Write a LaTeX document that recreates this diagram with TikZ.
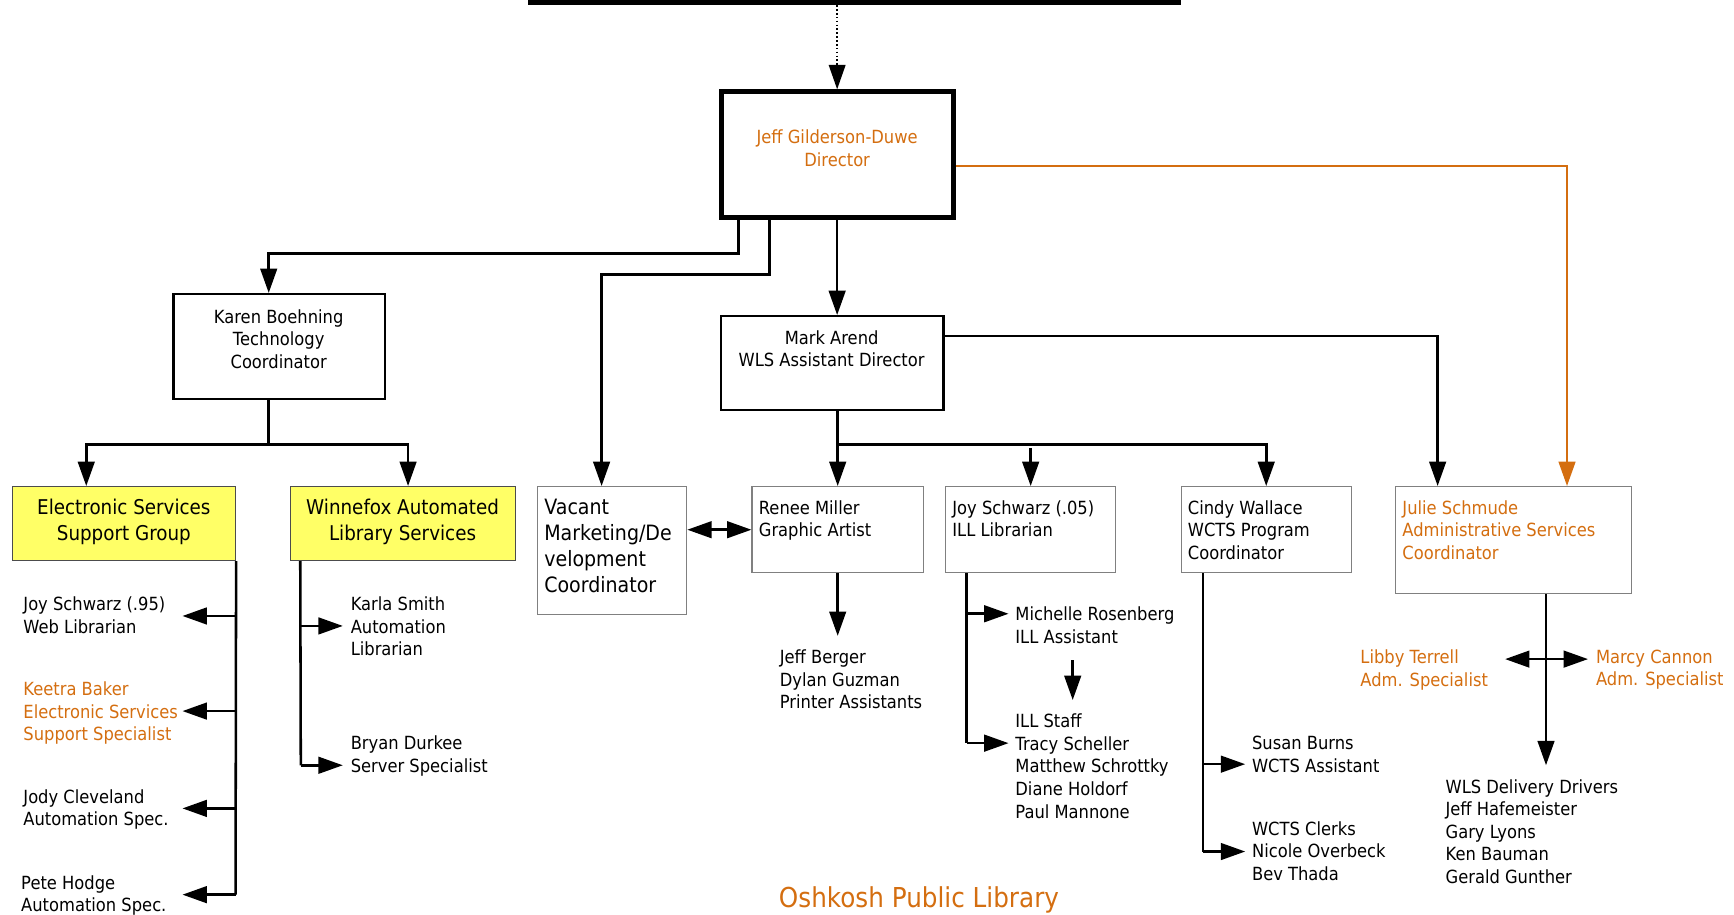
\documentclass[tikz,border=0pt]{standalone}
\usepackage{fontspec}
\setmainfont{DejaVu Sans}[FakeStretch=0.9]
\usetikzlibrary{arrows.meta,calc}
\definecolor{orgc}{RGB}{212,110,16}
\definecolor{yelc}{RGB}{255,255,102}
\definecolor{gryc}{RGB}{128,128,128}
\newcommand{\fsn}{\fontsize{16.4}{20.4}\selectfont}
\newcommand{\fsb}{\fontsize{18.4}{23.4}\selectfont}
\newcommand{\fsv}{\fontsize{19.1}{23.4}\selectfont}
\begin{document}
\begin{tikzpicture}[x=1pt,y=-1pt,
  tip/.style={-{Triangle[length=22pt,width=15pt]}},
  conn/.style={line width=2.3pt,tip},
  dconn/.style={line width=2.3pt,{Triangle[length=22pt,width=15pt]}-{Triangle[length=22pt,width=15pt]}},
  plainline/.style={line width=2.3pt},
  bigbox/.style={draw,line width=2.2pt,inner sep=0,fill=white},
  dirbox/.style={draw,line width=4.5pt,inner sep=0,fill=white},
  thinbox/.style={draw=gryc,line width=1pt,inner sep=0,fill=white},
  yelbox/.style={draw=black!70,line width=1pt,inner sep=0,fill=yelc},
  txt/.style={anchor=north west,inner sep=0,align=left,font=\fsn},
  ctxt/.style={anchor=north,inner sep=0,align=center,font=\fsn},
  btxt/.style={anchor=north,inner sep=0,align=center,font=\fsb},
]
\useasboundingbox (0,0) rectangle (1568,827);

% top bar
\node[fill=black,inner sep=0,minimum width=591,minimum height=5] (topbar) at (772.5,2) {};

% boxes
\node[dirbox,minimum width=210,minimum height=114] (dir) at (757,140) {};
\node[bigbox,minimum width=191,minimum height=95] (karen) at (252.5,313.5) {};
\node[bigbox,minimum width=201,minimum height=85] (mark) at (752.5,328.5) {};
\node[yelbox,minimum width=202,minimum height=67] (esg) at (112,473.5) {};
\node[yelbox,minimum width=203,minimum height=67] (wfx) at (364.5,473.5) {};
\node[thinbox,minimum width=135,minimum height=116] (vac) at (553.5,498) {};
\node[thinbox,minimum width=155,minimum height=78] (renee) at (757.5,479) {};
\node[thinbox,minimum width=154,minimum height=78] (joy) at (932,479) {};
\node[thinbox,minimum width=154,minimum height=78] (cindy) at (1145,479) {};
\node[thinbox,minimum width=213,minimum height=97] (julie) at (1368.5,488.5) {};

% box texts
\node[ctxt,text=orgc] (dirt) at (757,117.5) {Jeff Gilderson-Duwe\\Director};
\node[ctxt] (karent) at (252,279.5) {Karen Boehning\\Technology\\Coordinator};
\node[ctxt] (markt) at (752,298.5) {Mark Arend\\WLS Assistant Director};
\node[btxt] (esgt) at (112,451.5) {Electronic Services\\Support Group};
\node[btxt] (wfxt) at (364,451.5) {Winnefox Automated\\Library Services};
\node[txt,font=\fsv] (vact) at (492,451) {Vacant\\Marketing/De\\velopment\\Coordinator};
\node[txt] (reneet) at (686,452.5) {Renee Miller\\Graphic Artist};
\node[txt] (joyt) at (861,452.5) {Joy Schwarz (.05)\\ILL Librarian};
\node[txt] (cindyt) at (1074,452.5) {Cindy Wallace\\WCTS Program\\Coordinator};
\node[txt,text=orgc] (juliet) at (1268,452.5) {Julie Schmude\\Administrative Services\\Coordinator};

% free texts
\node[txt] (joys) at (21,539.5) {Joy Schwarz (.95)\\Web Librarian};
\node[txt,text=orgc] (keetra) at (21,616.5) {Keetra Baker\\Electronic Services\\Support Specialist};
\node[txt] (jody) at (21,713.5) {Jody Cleveland\\Automation Spec.};
\node[txt] (pete) at (19,791.5) {Pete Hodge\\Automation Spec.};
\node[txt] (karla) at (317,539.5) {Karla Smith\\Automation\\Librarian};
\node[txt] (bryan) at (317,665.5) {Bryan Durkee\\Server Specialist};
\node[txt] (printer) at (705,587.5) {Jeff Berger\\Dylan Guzman\\Printer Assistants};
\node[txt] (michelle) at (918,548.5) {Michelle Rosenberg\\ILL Assistant};
\node[txt] (illstaff) at (918,645.5) {ILL Staff\\Tracy Scheller\\Matthew Schrottky\\Diane Holdorf\\Paul Mannone};
\node[txt] (susan) at (1132,665.5) {Susan Burns\\WCTS Assistant};
\node[txt] (clerks) at (1132,742.5) {WCTS Clerks\\Nicole Overbeck\\Bev Thada};
\node[txt,text=orgc] (libby) at (1230,587.5) {Libby Terrell\\Adm. Specialist};
\node[txt,text=orgc] (marcy) at (1443,587.5) {Marcy Cannon\\Adm. Specialist};
\node[txt] (drivers) at (1307,704.5) {WLS Delivery Drivers\\Jeff Hafemeister\\Gary Lyons\\Ken Bauman\\Gerald Gunther};
\node[inner sep=0,text=orgc,font=\fontsize{24.8}{30}\selectfont] (title) at (831,814) {Oshkosh Public Library};

% coordinates
\coordinate (kbus) at (243,402);
\coordinate (mbus) at (757.5,402);
\coordinate (esgend) at (213,809);
\coordinate (a1) at (165,557);
\coordinate (a2) at (165,643);
\coordinate (a3) at (165,731);
\coordinate (a4) at (165,809);
\coordinate (wfxend) at (272,692);
\coordinate (b1) at (310,566);
\coordinate (b2) at (310,692);
\coordinate (rend) at (757.5,575);
\coordinate (joyend) at (874,672);
\coordinate (c1) at (912,555);
\coordinate (c2) at (912,672);
\coordinate (cindyend) at (1088,770);
\coordinate (d1) at (1126,691);
\coordinate (d2) at (1126,770);
\coordinate (jend) at (1398,692);
\coordinate (jl) at (1361,596);
\coordinate (jr) at (1436,596);
\coordinate (m1) at (970,597);
\coordinate (m2) at (970,633);

% connectors
\draw[line width=1.5pt,dotted,tip] (dir.north |- topbar.south) -- (dir.north);
\draw[conn] ([xshift=18pt]dir.south west) -- ++(0,30) -| ([xshift=-9.5pt]karen.north);
\draw[conn] ([xshift=46pt]dir.south west) -- ++(0,49) -| ([xshift=-9.5pt]vac.north);
\draw[conn] (dir.south) -- (dir.south |- mark.north);
\draw[conn,orgc] ([yshift=-10pt]dir.east) -| ([xshift=48.5pt]julie.north);
\draw[conn] ([yshift=24.5pt]mark.east) -| ([xshift=-68.5pt]julie.north);

\draw[plainline] ([xshift=-9.5pt]karen.south) -- (kbus);
\draw[conn] (kbus) -| ([xshift=-34pt]esg.north);
\draw[conn] (kbus) -| ([xshift=4.5pt]wfx.north);

\draw[conn] (renee.north |- mark.south) -- (renee.north);
\draw[conn] (mbus) -| (cindy.north);
\draw[conn] ([yshift=-3pt]joy.north |- mbus) -- (joy.north);
\draw[dconn] (renee.west -| vac.east) -- (renee.west);

\draw[plainline] (esg.south east) -- (esgend);
\foreach \p in {a1,a2,a3} {\draw[conn] (esg.south east |- \p) -- (\p);}
\draw[conn] (esgend) -- (a4);

\draw[plainline] ([xshift=9pt]wfx.south west) -- (wfxend);
\draw[conn] (wfxend |- b1) -- (b1);
\draw[conn] (wfxend) -- (b2);

\draw[conn] (renee.south) -- (rend);

\draw[plainline] (joy.south west -| joyend) -- (joyend);
\draw[conn] (joyend |- c1) -- (c1);
\draw[conn] (joyend) -- (c2);
\draw[conn] (m1) -- (m2);

\draw[plainline] (cindy.south west -| cindyend) -- (cindyend);
\draw[conn] (cindyend |- d1) -- (d1);
\draw[conn] (cindyend) -- (d2);

\draw[conn] (julie.south -| jend) -- (jend);
\draw[dconn] (jl) -- (jr);
\end{tikzpicture}
\end{document}
